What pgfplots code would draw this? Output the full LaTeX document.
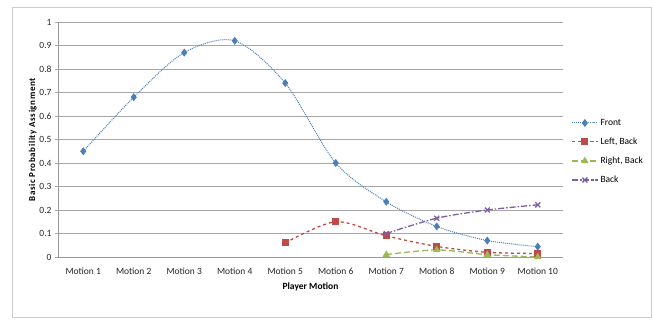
\documentclass[border=0pt]{standalone}
\usepackage{pgfplots}
\pgfplotsset{compat=1.18}
\usepackage{fontspec}
\setmainfont{Carlito}
\definecolor{cblue}{HTML}{4A7EBB}
\definecolor{cred}{HTML}{BE4B48}
\definecolor{cgreen}{HTML}{98B954}
\definecolor{cpurple}{HTML}{7D60A0}
\begin{document}
\begin{tikzpicture}[x=1pt,y=1pt]
\useasboundingbox (-58,-62) rectangle (596,257);
\draw[gray!40, line width=0.8pt] (-46,-60) rectangle (593,250);
\begin{axis}[
  at={(0,0)}, anchor=south west,
  scale only axis, width=505pt, height=235pt,
  xmin=0.5, xmax=10.5, ymin=0, ymax=1,
  xtick={1,...,10},
  xticklabels={Motion 1,Motion 2,Motion 3,Motion 4,Motion 5,Motion 6,Motion 7,Motion 8,Motion 9,Motion 10},
  ytick={0,0.1,...,1.0},
  yticklabels={0,0.1,0.2,0.3,0.4,0.5,0.6,0.7,0.8,0.9,1},
  ymajorgrids, grid style={gray!70, line width=0.6pt},
  axis x line*=bottom, axis y line*=left,
  axis line style={gray!80, line width=0.6pt, -},
  xtick style={draw=none},
  ytick style={gray!70},
  tick align=outside, major tick length=3pt,
  tick label style={font=\fontsize{9.5}{10}\selectfont, text=black!85},
  xticklabel style={yshift=-4pt},
  /pgf/number format/assume math mode=true,
  xlabel={\textbf{Player Motion}},
  ylabel={\addfontfeatures{LetterSpace=7}\textbf{Basic Probability Assignment}},
  xlabel style={font=\fontsize{9.5}{10}\selectfont, yshift=-2pt},
  ylabel style={font=\fontsize{9}{10}\selectfont, yshift=-4pt},
  legend style={at={(510pt,142pt)}, anchor=north west, draw=none, fill=none,
    font=\fontsize{9.5}{10}\selectfont, row sep=7pt},
  legend cell align=left,
  legend image code/.code={\draw[mark repeat=2,mark phase=2] plot coordinates {(0pt,0pt)(13pt,0pt)(26pt,0pt)};},
  clip=false,
]
\addplot[cblue, densely dotted, line width=1pt, smooth, mark=diamond*, mark size=3.2pt,
  mark options={solid, fill=cblue}]
  coordinates {(1,0.45)(2,0.68)(3,0.87)(4,0.92)(5,0.74)(6,0.40)(7,0.235)(8,0.13)(9,0.07)(10,0.044)};
\addlegendentry{Front}
\addplot[cred, dashed, line width=1.3pt, smooth, mark=square*, mark size=2.8pt,
  mark options={solid, fill=cred}]
  coordinates {(5,0.06)(6,0.15)(7,0.09)(8,0.045)(9,0.02)(10,0.015)};
\addlegendentry{Left, Back}
\addplot[cgreen, dash pattern=on 6pt off 3pt, line width=1.3pt, smooth, mark=triangle*, mark size=3pt,
  mark options={solid, fill=cgreen}]
  coordinates {(7,0.01)(8,0.03)(9,0.01)(10,0.0)};
\addlegendentry{Right, Back}
\addplot[cpurple, dash pattern=on 6pt off 2pt on 1.5pt off 2pt, line width=1.3pt, smooth, mark=x, mark size=3.5pt,
  mark options={solid}]
  coordinates {(7,0.10)(8,0.165)(9,0.20)(10,0.222)};
\addlegendentry{Back}
\end{axis}
\end{tikzpicture}
\end{document}
